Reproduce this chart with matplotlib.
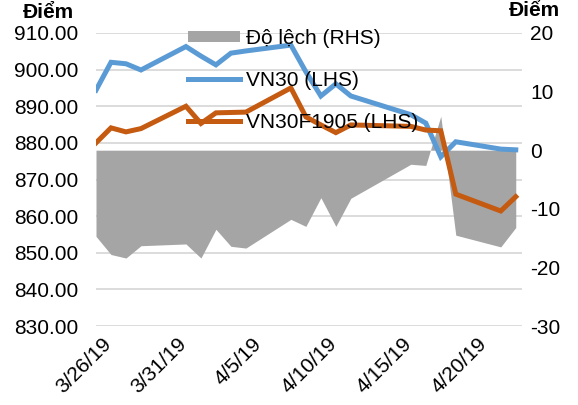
import matplotlib
matplotlib.use("Agg")
import matplotlib.pyplot as plt
import matplotlib.transforms as mtransforms
import pandas as pd
from matplotlib.patches import Patch
from matplotlib.lines import Line2D

# ---- data ----
dates = ["2019-03-26", "2019-03-27", "2019-03-28", "2019-03-29",
         "2019-04-01", "2019-04-02", "2019-04-03", "2019-04-04", "2019-04-05",
         "2019-04-08", "2019-04-09", "2019-04-10", "2019-04-11", "2019-04-12",
         "2019-04-16", "2019-04-17", "2019-04-18", "2019-04-19",
         "2019-04-22", "2019-04-23"]
vn30 = [894.4, 902.0, 901.6, 899.9,
        906.3, 903.7, 901.3, 904.5, 905.1,
        906.7, 899.4, 892.8, 896.1, 892.8,
        887.7, 885.4, 876.2, 880.3,
        878.3, 878.1]
vn30f1905 = [880.0, 884.1, 883.0, 883.9,
             890.0, 885.3, 888.2, 888.3, 888.4,
             895.0, 887.1, 884.9, 882.8, 884.9,
             884.5, 883.5, 883.3, 866.0,
             861.4, 865.3]
do_lech = [-14.7, -17.8, -18.4, -16.3,
           -16.0, -18.4, -13.5, -16.4, -16.7,
           -11.8, -13.0, -8.1, -13.0, -8.2,
           -2.4, -2.6, 5.8, -14.5,
           -16.5, -13.2]
tick_dates = ["2019-03-26", "2019-03-31", "2019-04-05", "2019-04-10", "2019-04-15", "2019-04-20"]
tick_labels = ["3/26/19", "3/31/19", "4/5/19", "4/10/19", "4/15/19", "4/20/19"]
left_ticks = [830, 840, 850, 860, 870, 880, 890, 900, 910]
right_ticks = [-30, -20, -10, 0, 10, 20]
series_names = ["Độ lệch (RHS)", "VN30 (LHS)", "VN30F1905 (LHS)"]

x = pd.to_datetime(dates)
xt = pd.to_datetime(tick_dates)

plt.rcParams['font.family'] = ['Liberation Sans', 'DejaVu Sans']
plt.rcParams['axes.unicode_minus'] = False
FS = 15

fig = plt.figure(figsize=(5.78, 4.05), dpi=100)
ax = fig.add_axes([96/578, 1 - 326/405, (522-96)/578, (326-33)/405])
ax2 = ax.twinx()
ax3 = ax.twinx()

blue = "#5B9BD5"
orange = "#C55A11"
gray = "#A5A5A5"

# base axis: gridlines + left labels
ax.set_ylim(830, 910)
ax.set_yticks(left_ticks)
ax.set_yticklabels([f"{v:.2f}" for v in left_ticks])
ax.grid(axis='y', color='#D9D9D9', linewidth=1.3)
ax.set_axisbelow(True)
ax.tick_params(axis='y', length=0, labelsize=FS, pad=13)
ax.tick_params(axis='x', length=0, labelsize=FS, pad=6)
for s in ax.spines.values():
    s.set_visible(False)

# area on right axis
ax2.fill_between(x, 0, do_lech, color=gray, linewidth=0)
ax2.set_ylim(-30, 20)
ax2.set_yticks(right_ticks)
ax2.tick_params(axis='y', length=0, labelsize=FS, pad=6)
for s in ax2.spines.values():
    s.set_visible(False)

# lines on top
ax3.plot(x, vn30, color=blue, linewidth=3.6, solid_joinstyle='miter')
ax3.plot(x, vn30f1905, color=orange, linewidth=3.6, solid_joinstyle='miter')
ax3.set_ylim(830, 910)
ax3.set_yticks([])
for s in ax3.spines.values():
    s.set_visible(False)

ax.set_zorder(1)
ax2.set_zorder(2)
ax3.set_zorder(3)
ax2.patch.set_visible(False)
ax3.patch.set_visible(False)

ax.set_xlim(x[0], x[-1] + pd.Timedelta(hours=10))
ax.set_xticks(xt)
ax.set_xticklabels(tick_labels, rotation=45, ha='right', va='top', rotation_mode='anchor')
offset = mtransforms.ScaledTranslation(6/100, 0, fig.dpi_scale_trans)
for lbl in ax.get_xticklabels():
    lbl.set_transform(lbl.get_transform() + offset)

handles = [Patch(facecolor=gray, edgecolor='none'),
           Line2D([], [], color=blue, linewidth=3.6),
           Line2D([], [], color=orange, linewidth=3.6)]
leg = ax3.legend(handles, series_names, loc='upper left',
                 bbox_to_anchor=(188/578, 1 - 29/405), bbox_transform=fig.transFigure,
                 frameon=False, fontsize=FS, handlelength=2.5, handleheight=0.45,
                 handletextpad=0.3, labelspacing=1.1, borderpad=0, borderaxespad=0)

fig.text(74/578, 1 - 12/405, "Điểm", fontsize=FS, fontweight='bold', ha='right', va='center')
fig.text(560/578, 1 - 1/405, "Điểm", fontsize=FS, fontweight='bold', ha='right', va='top')

fig.savefig("out.png", dpi=100)
